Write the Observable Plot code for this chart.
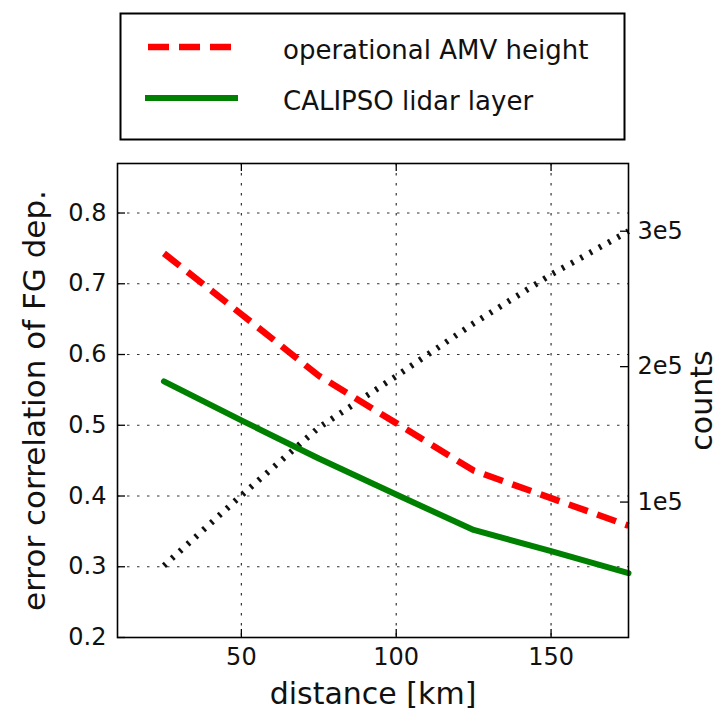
<!DOCTYPE html>
<html>
<head>
<meta charset="utf-8">
<script src="https://cdn.jsdelivr.net/npm/d3@7"></script>
<script src="https://cdn.jsdelivr.net/npm/@observablehq/plot@0.6"></script>
<style>
  html, body { margin: 0; padding: 0; background: #fff; }
  #chart svg { display: block; }
</style>
</head>
<body>
<div id="chart"></div>
<script>
// Distance bins [km] and the statistics per bin
const distanceKm = [25, 50, 75, 100, 125, 150, 175];
const amvHeightCorr = [0.743, 0.657, 0.570, 0.503, 0.436, 0.397, 0.358];
const lidarLayerCorr = [0.562, 0.507, 0.453, 0.402, 0.352, 0.322, 0.291];
const pairCounts = [53000, 105000, 155000, 193000, 232000, 268000, 300000];

// Axis ticks and labels
const xTicks = [50, 100, 150];
const yTicks = [0.2, 0.3, 0.4, 0.5, 0.6, 0.7, 0.8];
const countTicks = [100000, 200000, 300000];
const countTickLabels = ["1e5", "2e5", "3e5"];
const legendLabels = ["operational AMV height", "CALIPSO lidar layer"];
const xLabel = "distance [km]";
const yLabel = "error correlation of FG dep.";
const countLabel = "counts";

const xDomain = [10, 175];
const yDomain = [0.2, 0.87];
const countDomain = [0, 350000];

// The counts share the vertical scale: map them linearly onto the correlation range
const countToY = c => yDomain[0] + (c - countDomain[0]) / (countDomain[1] - countDomain[0]) * (yDomain[1] - yDomain[0]);
const yToCountLabel = v => {
  const i = countTicks.findIndex(c => Math.abs(countToY(c) - v) < 1e-9);
  return i < 0 ? "" : countTickLabels[i];
};

const amvRows = distanceKm.map((d, i) => ({distance: d, value: amvHeightCorr[i]}));
const lidarRows = distanceKm.map((d, i) => ({distance: d, value: lidarLayerCorr[i]}));
const countRows = distanceKm.map((d, i) => ({distance: d, value: countToY(pairCounts[i])}));

const W = 719, H = 711;
const M = {left: 117, right: 91, top: 163, bottom: 74};
const frameW = W - M.left - M.right;
const frameH = H - M.top - M.bottom;
const tickLen = 8;

const font = "DejaVu Sans";
const gridStyle = {stroke: "#000", strokeOpacity: 0.8, strokeWidth: 1.2, strokeDasharray: "2.5,7.5"};
const tickStyle = {stroke: "#000", strokeWidth: 1.3};

const chart = Plot.plot({
  width: W,
  height: H,
  marginLeft: M.left,
  marginRight: M.right,
  marginTop: M.top,
  marginBottom: M.bottom,
  x: {domain: xDomain},
  y: {domain: yDomain},
  style: {fontFamily: font, fontSize: "24px", color: "#111", background: "#fff", overflow: "visible"},
  marks: [
    Plot.gridX(xTicks, gridStyle),
    Plot.gridY(yTicks.slice(1), gridStyle),
    Plot.line(countRows, {x: "distance", y: "value", stroke: "#111", strokeWidth: 6, strokeDasharray: "2.6,8", strokeLinecap: "butt"}),
    Plot.line(amvRows, {x: "distance", y: "value", stroke: "#ff0000", strokeWidth: 6.5, strokeDasharray: "20,10", strokeLinecap: "butt"}),
    Plot.line(lidarRows, {x: "distance", y: "value", stroke: "#008000", strokeWidth: 6}),
    // inward tick marks on all four sides
    Plot.tickX(xTicks, {x: d => d, insetTop: frameH - tickLen, ...tickStyle}),
    Plot.tickX(xTicks, {x: d => d, insetBottom: frameH - tickLen, ...tickStyle}),
    Plot.tickY(yTicks, {y: d => d, insetRight: frameW - tickLen, ...tickStyle}),
    Plot.tickY(countTicks.map(countToY), {y: d => d, insetLeft: frameW - tickLen, ...tickStyle}),
    Plot.frame({stroke: "#000", strokeWidth: 1.6}),
    Plot.axisX({anchor: "bottom", ticks: xTicks, tickSize: 0, tickPadding: 10, label: null, tickFormat: d3.format("d")}),
    Plot.axisY({anchor: "left", ticks: yTicks, tickSize: 0, tickPadding: 11, label: null, tickFormat: d3.format(".1f")}),
    Plot.axisY({anchor: "right", ticks: countTicks.map(countToY), tickSize: 0, tickPadding: 9, label: null, tickFormat: yToCountLabel}),
    Plot.text([xLabel], {frameAnchor: "bottom", dy: 66, lineAnchor: "bottom", textAnchor: "middle", text: d => d, fontSize: 30, fill: "#111"}),
    Plot.text([yLabel], {frameAnchor: "left", dx: -73, rotate: -90, lineAnchor: "bottom", textAnchor: "middle", text: d => d, fontSize: 31, fill: "#111"}),
    Plot.text([countLabel], {frameAnchor: "right", dx: 83, rotate: -90, lineAnchor: "bottom", textAnchor: "middle", text: d => d, fontSize: 30, fill: "#111"})
  ]
});

// Legend box above the plot area
const svg = d3.select(chart);
const legend = svg.append("g").attr("font-family", font).attr("text-anchor", "start");
legend.append("rect")
  .attr("x", 120.5).attr("y", 13.5).attr("width", 504).attr("height", 126)
  .attr("fill", "#fff").attr("stroke", "#000").attr("stroke-width", 2);
const legendStyles = [
  {stroke: "#ff0000", width: 6.5, dash: "21,10", y: 47, x1: 148, x2: 233},
  {stroke: "#008000", width: 6, dash: null, y: 98, x1: 145, x2: 238}
];
legendLabels.forEach((label, i) => {
  const s = legendStyles[i];
  legend.append("line")
    .attr("x1", s.x1).attr("x2", s.x2).attr("y1", s.y).attr("y2", s.y)
    .attr("stroke", s.stroke).attr("stroke-width", s.width)
    .attr("stroke-dasharray", s.dash);
  legend.append("text")
    .attr("x", 283).attr("y", s.y + 12)
    .attr("font-size", 26).attr("fill", "#111")
    .attr("text-anchor", "start")
    .text(label);
});

document.getElementById("chart").appendChild(chart);
</script>
</body>
</html>
